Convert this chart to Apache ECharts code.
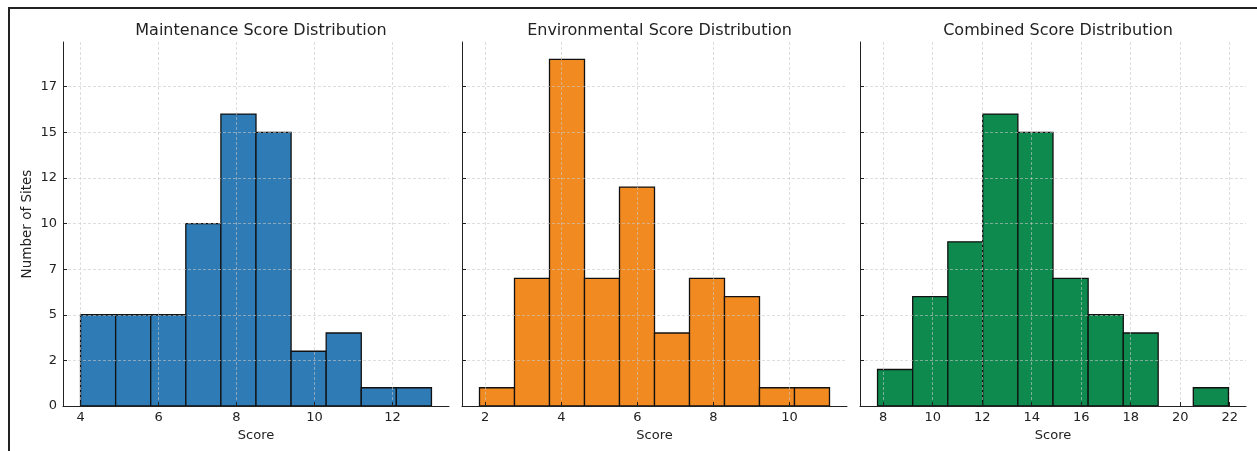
<!DOCTYPE html>
<html>
<head>
<meta charset="utf-8">
<script src="https://cdn.jsdelivr.net/npm/echarts@6/dist/echarts.min.js"></script>
<style>
  html, body { margin: 0; padding: 0; background: #fff; }
  #chart { width: 1257px; height: 451px; }
</style>
</head>
<body>
<div id="chart"></div>
<script>
// histogram bin edges and counts
const maintenanceEdges = [4.0, 4.9, 5.8, 6.7, 7.6, 8.5, 9.4, 10.3, 11.2, 12.1, 13.0];
const maintenanceCounts = [5, 5, 5, 10, 16, 15, 3, 4, 1, 1];

const environmentalEdges = [1.85, 2.77, 3.69, 4.61, 5.53, 6.45, 7.37, 8.29, 9.21, 10.13, 11.05];
const environmentalCounts = [1, 7, 19, 7, 12, 4, 7, 6, 1, 1];

const combinedEdges = [7.77, 9.19, 10.61, 12.02, 13.44, 14.86, 16.28, 17.70, 19.11, 20.53, 21.95];
const combinedCounts = [2, 6, 9, 16, 15, 7, 5, 4, 0, 1];

const titles = ['Maintenance Score Distribution', 'Environmental Score Distribution', 'Combined Score Distribution'];
const maintenanceTicks = [4, 6, 8, 10, 12];
const environmentalTicks = [2, 4, 6, 8, 10];
const combinedTicks = [8, 10, 12, 14, 16, 18, 20, 22];
const yTicks = [0, 2.5, 5, 7.5, 10, 12.5, 15, 17.5];

const FONT = 'DejaVu Sans';
const colors = ['#2e7bb5', '#f28a22', '#0e8a4e'];

const panels = [
  { edges: maintenanceEdges, counts: maintenanceCounts, ticks: maintenanceTicks, left: 63, width: 386 },
  { edges: environmentalEdges, counts: environmentalCounts, ticks: environmentalTicks, left: 462, width: 385 },
  { edges: combinedEdges, counts: combinedCounts, ticks: combinedTicks, left: 860, width: 386 }
];

function binsToData(edges, counts) {
  let rows = [];
  for (let i = 0; i < counts.length; i++) {
    if (counts[i] > 0) rows.push([edges[i], edges[i + 1], counts[i]]);
  }
  return rows;
}

function histItem(params, api) {
  let p0 = api.coord([api.value(0), api.value(2)]);
  let p1 = api.coord([api.value(1), 0]);
  return {
    type: 'rect',
    shape: { x: p0[0], y: p0[1], width: p1[0] - p0[0], height: p1[1] - p0[1] },
    style: api.style()
  };
}

const splitStyle = { show: true, lineStyle: { color: 'rgba(200,200,200,0.75)', type: [3, 2], width: 0.8 } };

let option = {
  backgroundColor: '#fff',
  animation: false,
  title: [],
  grid: [],
  xAxis: [],
  yAxis: [],
  series: [],
  graphic: [
    { type: 'line', shape: { x1: 8, y1: 8, x2: 1257, y2: 8 }, style: { stroke: '#222', lineWidth: 2 } },
    { type: 'line', shape: { x1: 9, y1: 8, x2: 9, y2: 451 }, style: { stroke: '#222', lineWidth: 2 } }
  ]
};

panels.forEach(function (p, i) {
  let span = p.edges[p.edges.length - 1] - p.edges[0];
  option.title.push({
    text: titles[i],
    left: p.left + p.width / 2,
    top: 18,
    textAlign: 'center',
    textStyle: { fontFamily: FONT, fontSize: 16, fontWeight: 'normal', color: '#222' }
  });
  option.grid.push({ left: p.left, width: p.width, top: 42, height: 364 });
  option.xAxis.push({
    type: 'value',
    gridIndex: i,
    z: 5,
    min: p.edges[0] - 0.05 * span,
    max: p.edges[p.edges.length - 1] + 0.05 * span,
    name: 'Score',
    nameLocation: 'middle',
    nameGap: 22,
    nameTextStyle: { fontFamily: FONT, fontSize: 13, color: '#222' },
    axisLine: { lineStyle: { color: '#222', width: 1 } },
    axisTick: { show: true, inside: true, length: 4, customValues: p.ticks, lineStyle: { color: '#222' } },
    axisLabel: { customValues: p.ticks, fontFamily: FONT, fontSize: 13, color: '#222', margin: 5 },
    splitLine: splitStyle
  });
  option.yAxis.push({
    type: 'value',
    gridIndex: i,
    z: 5,
    min: 0,
    max: 19.95,
    name: i === 0 ? 'Number of Sites' : '',
    nameLocation: 'middle',
    nameGap: 29,
    nameTextStyle: { fontFamily: FONT, fontSize: 13.5, color: '#222' },
    axisLine: { show: true, lineStyle: { color: '#222', width: 1 } },
    axisTick: { show: true, inside: true, length: 4, customValues: yTicks, lineStyle: { color: '#222' } },
    axisLabel: {
      show: i === 0,
      customValues: yTicks,
      fontFamily: FONT, fontSize: 13, color: '#222', margin: 6,
      formatter: function (v) { return String(Math.floor(v)); }
    },
    splitLine: splitStyle
  });
  option.series.push({
    type: 'custom',
    xAxisIndex: i,
    yAxisIndex: i,
    renderItem: histItem,
    encode: { x: [0, 1], y: 2 },
    itemStyle: { color: colors[i], borderColor: '#111', borderWidth: 1.3 },
    data: binsToData(p.edges, p.counts)
  });
});

let chart = echarts.init(document.getElementById('chart'), null, { renderer: 'canvas' });
chart.setOption(option);
</script>
</body>
</html>
